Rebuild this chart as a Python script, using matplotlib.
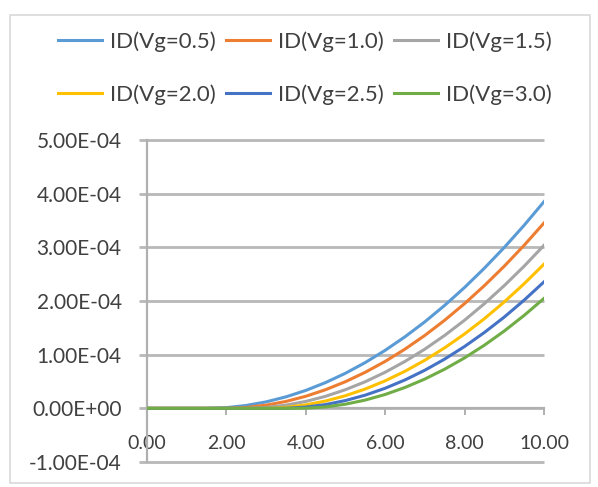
import matplotlib
matplotlib.use("Agg")
import matplotlib.pyplot as plt
from matplotlib.patches import Rectangle
from matplotlib.ticker import FuncFormatter

plt.rcParams['font.family'] = ['Lato', 'DejaVu Sans']

# x values (drain voltage sweep)
vd = [0.0, 0.5, 1.0, 1.5, 2.0, 2.5, 3.0, 3.5, 4.0, 4.5, 5.0,
      5.5, 6.0, 6.5, 7.0, 7.5, 8.0, 8.5, 9.0, 9.5, 10.0]

# drain currents, units of 1e-4 A
id_05 = [0, 0, 0, 0, 0.013, 0.053, 0.12, 0.213, 0.333, 0.48, 0.653,
         0.853, 1.08, 1.333, 1.612, 1.919, 2.252, 2.612, 2.998, 3.411, 3.851]
id_10 = [0, 0, 0, 0, 0, 0.016, 0.059, 0.128, 0.224, 0.347, 0.496,
         0.672, 0.874, 1.103, 1.359, 1.642, 1.951, 2.287, 2.649, 3.038, 3.454]
id_15 = [0, 0, 0, 0, 0, 0, 0.016, 0.059, 0.128, 0.224, 0.347,
         0.496, 0.672, 0.874, 1.103, 1.359, 1.642, 1.951, 2.287, 2.649, 3.038]
id_20 = [0, 0, 0, 0, 0, 0, 0.0005, 0.019, 0.064, 0.136, 0.235,
         0.36, 0.512, 0.691, 0.896, 1.128, 1.386, 1.671, 1.983, 2.322, 2.687]
id_25 = [0, 0, 0, 0, 0, 0, 0, 0.001, 0.023, 0.07, 0.145,
         0.246, 0.374, 0.529, 0.71, 0.918, 1.152, 1.414, 1.701, 2.016, 2.357]
id_30 = [0, 0, 0, 0, 0, 0, 0, 0, 0.002, 0.026, 0.077,
         0.154, 0.258, 0.389, 0.546, 0.73, 0.94, 1.177, 1.441, 1.732, 2.049]

labels = ["ID(Vg=0.5)", "ID(Vg=1.0)", "ID(Vg=1.5)",
          "ID(Vg=2.0)", "ID(Vg=2.5)", "ID(Vg=3.0)"]
colors = ["#5B9BD5", "#ED7D31", "#A5A5A5", "#FFC000", "#4472C4", "#70AD47"]
series = [id_05, id_10, id_15, id_20, id_25, id_30]
yticks = [-1e-4, 0, 1e-4, 2e-4, 3e-4, 4e-4, 5e-4]

fig = plt.figure(figsize=(5.98, 4.87), dpi=100)
fig.patches.append(Rectangle((10 / 598, 4 / 487), 580 / 598, 468 / 487,
                             transform=fig.transFigure, fill=False,
                             edgecolor="#D9D9D9", lw=1.2))
ax = fig.add_axes([0.2453, 0.0513, 0.6644, 0.6612])

ax.set_xlim(0, 10)
ax.set_ylim(-1e-4, 5e-4)

# horizontal gridlines, slightly left of the axis like Excel's tick marks
ax.hlines(yticks, -0.2, 10, colors="#B8B8B8", linewidth=2.0, zorder=1,
          clip_on=False)

lines = []
for ys, c, lab in zip(series, colors, labels):
    ln, = ax.plot(vd, [v * 1e-4 for v in ys], color=c, lw=2.2, label=lab,
                  zorder=3)
    lines.append(ln)

ax.set_xticks([0, 2, 4, 6, 8, 10])
ax.set_yticks(yticks)
ax.xaxis.set_major_formatter(FuncFormatter(lambda v, p: "%.2f" % v))

def sci(v, p):
    s = "%.2E" % v
    if abs(v) < 1e-12:
        s = "0.00E+00"
    return s

ax.yaxis.set_major_formatter(FuncFormatter(sci))
for s in ["top", "right"]:
    ax.spines[s].set_visible(False)
ax.spines["bottom"].set_position(("data", 0))
ax.spines["bottom"].set_color("#B0B0B0")
ax.spines["left"].set_color("#B0B0B0")
ax.spines["bottom"].set_linewidth(1.6)
ax.spines["left"].set_linewidth(1.6)
ax.spines["bottom"].set_zorder(2)
ax.tick_params(axis="x", color="#B0B0B0", length=5, width=1.4, pad=14,
               labelcolor="#404040", labelsize=14)
ax.tick_params(axis="y", length=0, pad=18,
               labelcolor="#404040", labelsize=15)

# matplotlib fills legend columns first, so reorder to read row by row
order = [0, 3, 1, 4, 2, 5]
fig.legend([lines[i] for i in order], [labels[i] for i in order],
           loc="upper center", bbox_to_anchor=(0.51, 0.936), ncol=3,
           frameon=False, fontsize=16, handlelength=2.0, handletextpad=0.35,
           columnspacing=0.45, labelspacing=1.45, labelcolor="#404040",
           borderaxespad=0, borderpad=0)

fig.savefig("out.png", dpi=100)
